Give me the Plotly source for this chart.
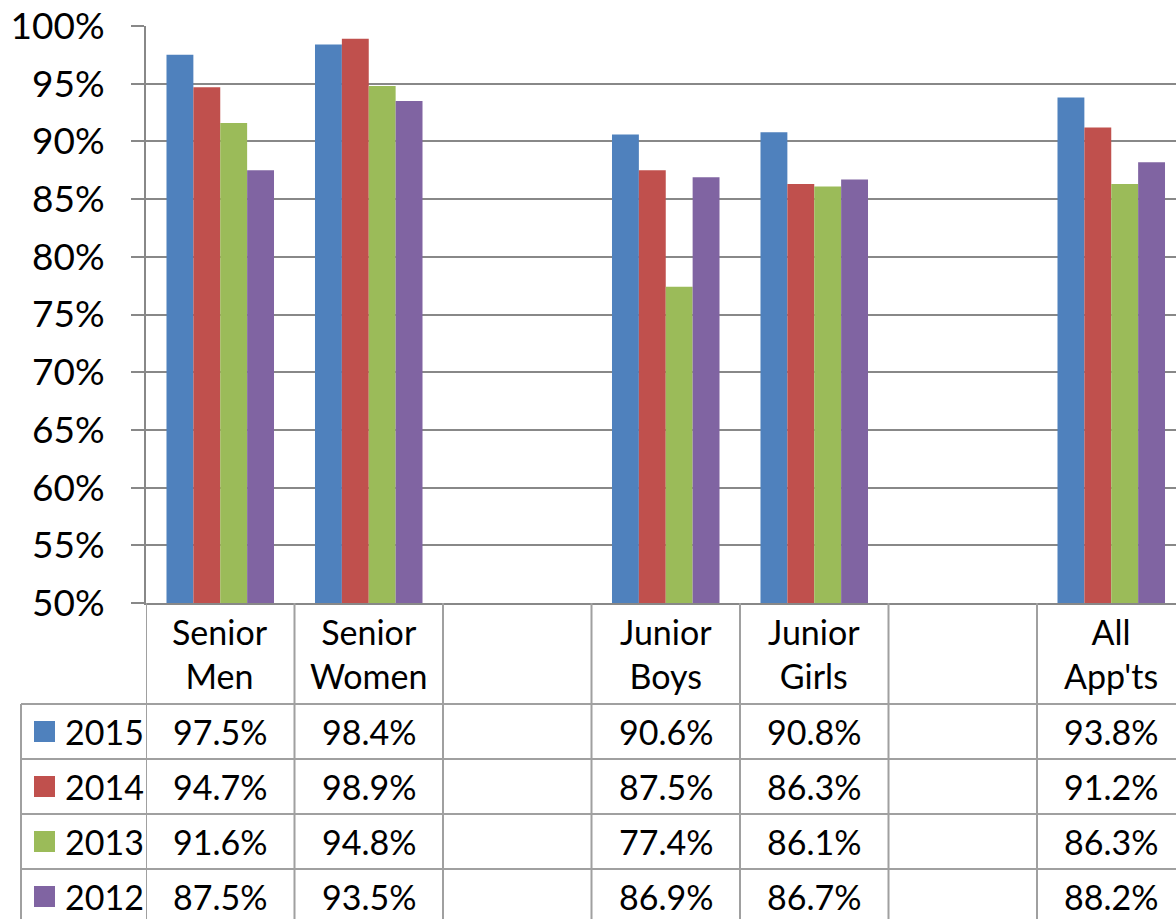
import plotly.graph_objects as go

# Categorias (colunas vazias separam os grupos)
categories = ["Senior Men", "Senior Women", "", "Junior Boys", "Junior Girls", "", "All App'ts"]
years = ["2015", "2014", "2013", "2012"]

pct_2015 = [97.5, 98.4, None, 90.6, 90.8, None, 93.8]
pct_2014 = [94.7, 98.9, None, 87.5, 86.3, None, 91.2]
pct_2013 = [91.6, 94.8, None, 77.4, 86.1, None, 86.3]
pct_2012 = [87.5, 93.5, None, 86.9, 86.7, None, 88.2]

y_ticks = [50, 55, 60, 65, 70, 75, 80, 85, 90, 95, 100]

COLORS = {"2015": "#4F81BD", "2014": "#C0504D", "2013": "#9BBB59", "2012": "#8064A2"}
SERIES = {"2015": pct_2015, "2014": pct_2014, "2013": pct_2013, "2012": pct_2012}

# geometria de referência (pixels da imagem alvo)
REF_W, REF_H = 1176, 919
M_L, M_T = 146, 25
W, H = 1176, 941
FONT = "Lato"
GRID = "#888888"
TABLE_LINE = "#A0A0A0"


def py(p):
    """pixel y (ref) -> paper y"""
    return (REF_H - p) / (REF_H - M_T)


def px(p):
    """pixel x -> paper x"""
    return (p - M_L) / (REF_W - M_L)


x_idx = list(range(len(categories)))
fig = go.Figure()
for yr in years:
    fig.add_trace(go.Bar(x=x_idx, y=SERIES[yr], name=yr, marker_color=COLORS[yr],
                         marker_line_width=0, showlegend=False))

plot_bottom = 602
header_bottom = 703
row_h = 55

shapes = []
# linhas verticais da tabela (limites das categorias)
for i in range(len(categories) + 1):
    shapes.append(dict(type="line", xref="x", yref="paper", x0=i - 0.5, x1=i - 0.5,
                       y0=0, y1=py(plot_bottom), line=dict(color=TABLE_LINE, width=2)))
# coluna da legenda
shapes.append(dict(type="line", xref="paper", yref="paper", x0=px(21), x1=px(21),
                   y0=0, y1=py(header_bottom), line=dict(color=TABLE_LINE, width=2)))
for r in range(len(years)):
    y_line = header_bottom + r * row_h
    shapes.append(dict(type="line", xref="paper", yref="paper", x0=px(21), x1=1,
                       y0=py(y_line), y1=py(y_line), line=dict(color=TABLE_LINE, width=2)))

annotations = []
for i, cat in enumerate(categories):
    if cat:
        annotations.append(dict(x=i, y=py((plot_bottom + header_bottom) / 2), xref="x", yref="paper",
                                text=cat.replace(" ", "<br>"), showarrow=False,
                                font=dict(family=FONT, size=34, color="black"),
                                xanchor="center", yanchor="middle"))
for r, yr in enumerate(years):
    yc = header_bottom + r * row_h + row_h / 2
    shapes.append(dict(type="rect", xref="paper", yref="paper", x0=px(34), x1=px(55),
                       y0=py(yc + 10.5), y1=py(yc - 10.5), fillcolor=COLORS[yr], line_width=0))
    annotations.append(dict(x=px(63), y=py(yc), xref="paper", yref="paper", text=yr,
                            showarrow=False, xanchor="left", yanchor="middle",
                            font=dict(family=FONT, size=34, color="black")))
    for i, v in enumerate(SERIES[yr]):
        if v is None:
            continue
        annotations.append(dict(x=i, y=py(yc), xref="x", yref="paper", text=f"{v:.1f}%",
                                showarrow=False, xanchor="center", yanchor="middle",
                                font=dict(family=FONT, size=34, color="black")))

cat_w = 148.5
fig.update_layout(
    width=W, height=H,
    margin=dict(l=M_L, r=0, t=round(M_T * H / REF_H, 1), b=0),
    paper_bgcolor="white", plot_bgcolor="white",
    barmode="group", bargap=0.276, bargroupgap=0,
    shapes=shapes, annotations=annotations,
    font=dict(family=FONT, color="black"),
)
fig.update_xaxes(range=[-0.5, -0.5 + (REF_W - M_L) / cat_w], showticklabels=False, showgrid=False,
                 zeroline=False, showline=True, linecolor=GRID, linewidth=2, ticks="")
fig.update_yaxes(domain=[py(plot_bottom), 1], range=[50, 100], tickvals=y_ticks,
                 ticktext=[f"{t}%" for t in y_ticks], showgrid=True, gridcolor=GRID, gridwidth=1.5,
                 showline=True, linecolor=GRID, linewidth=2, ticks="outside", ticklen=13,
                 tickcolor=GRID, tickwidth=1.5, zeroline=False, ticklabelstandoff=19,
                 tickfont=dict(family=FONT, size=37, color="black"))

fig.write_html(
    "out.html",
    config={"displayModeBar": False},
    post_script="document.body.style.margin='0';document.body.style.overflow='hidden';"
                "document.documentElement.style.overflow='hidden';",
)
